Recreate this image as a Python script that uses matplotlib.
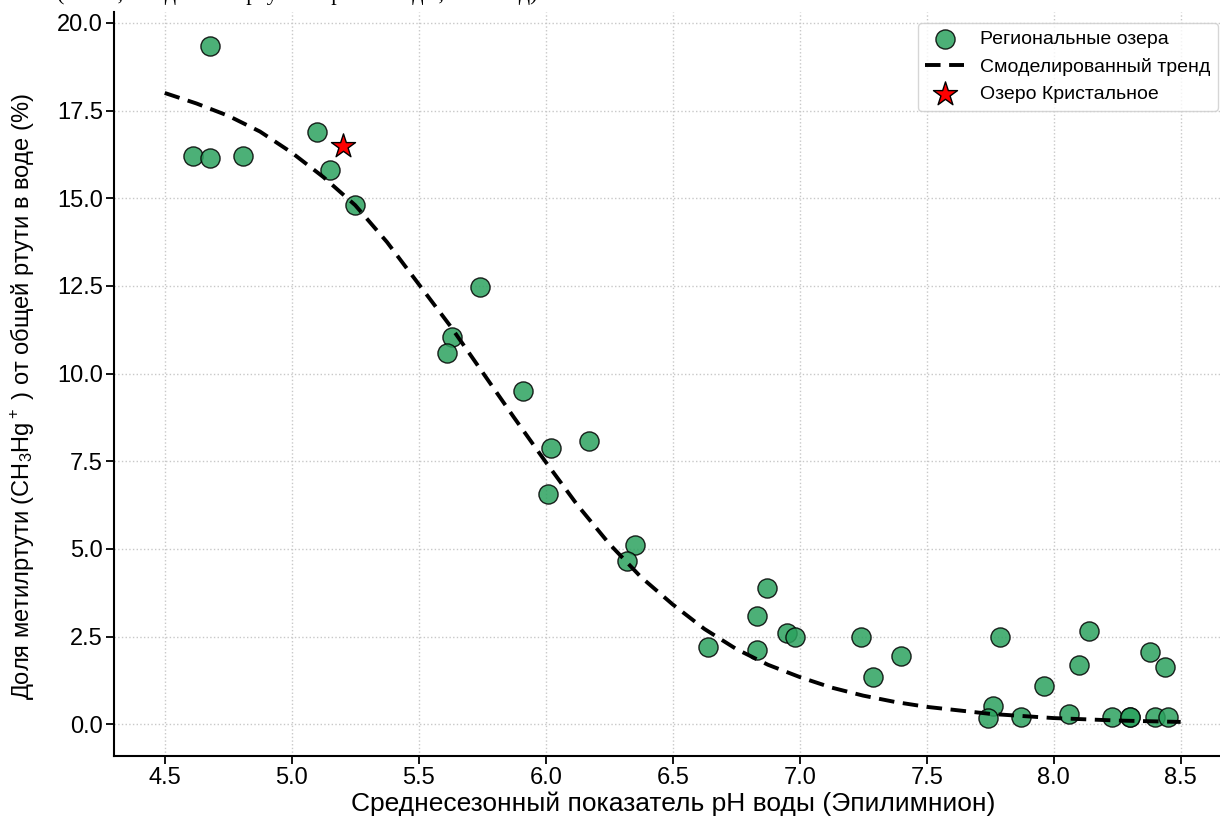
import numpy as np
import matplotlib
matplotlib.use("Agg")
import matplotlib.pyplot as plt

# --- данные ---
lake_ph = [4.61, 4.68, 4.68, 4.81, 5.10, 5.15, 5.25, 5.74, 5.63, 5.61,
           5.91, 6.02, 6.17, 6.01, 6.35, 6.32, 6.64, 6.87, 6.83, 6.83,
           6.95, 6.98, 7.24, 7.29, 7.40, 7.79, 7.76, 7.74, 7.87, 7.96,
           8.06, 8.10, 8.14, 8.23, 8.30, 8.30, 8.38, 8.40, 8.44, 8.45]
lake_mehg = [16.2, 19.35, 16.15, 16.2, 16.9, 15.8, 14.8, 12.48, 11.04, 10.6,
             9.49, 7.89, 8.08, 6.57, 5.11, 4.65, 2.21, 3.90, 3.09, 2.11,
             2.61, 2.49, 2.50, 1.36, 1.95, 2.49, 0.53, 0.18, 0.20, 1.09,
             0.30, 1.70, 2.66, 0.20, 0.20, 0.22, 2.07, 0.20, 1.64, 0.20]

trend_ph = [4.5, 4.625, 4.75, 4.875, 5.0, 5.125, 5.25, 5.375, 5.5, 5.625,
            5.75, 5.875, 6.0, 6.125, 6.25, 6.375, 6.5, 6.625, 6.75, 6.875,
            7.0, 7.125, 7.25, 7.375, 7.5, 7.75, 8.0, 8.25, 8.5]
trend_mehg = [18.0, 17.7, 17.35, 16.9, 16.3, 15.6, 14.8, 13.75, 12.55, 11.35,
              10.05, 8.75, 7.48, 6.25, 5.15, 4.2, 3.42, 2.72, 2.15, 1.7,
              1.35, 1.05, 0.82, 0.64, 0.5, 0.3, 0.18, 0.11, 0.07]

crystal_ph = [5.20]
crystal_mehg = [16.5]

x_ticks = [4.5, 5.0, 5.5, 6.0, 6.5, 7.0, 7.5, 8.0, 8.5]
y_ticks = [0.0, 2.5, 5.0, 7.5, 10.0, 12.5, 15.0, 17.5, 20.0]

plt.rcParams['font.family'] = ['Liberation Sans', 'DejaVu Sans']
plt.rcParams['mathtext.fontset'] = 'custom'
plt.rcParams['mathtext.rm'] = 'Liberation Sans'
plt.rcParams['mathtext.it'] = 'Liberation Sans:italic'

fig = plt.figure(figsize=(12.2, 8.3), dpi=100)
ax = fig.add_axes([0.0934, 0.0892, 0.916, 0.896])

ax.grid(True, linestyle=':', color='#c8c8c8', linewidth=1.0, zorder=0)
ax.set_axisbelow(True)

ax.scatter(lake_ph, lake_mehg, s=190, color='#2ca25f', alpha=0.85,
           edgecolors='black', linewidths=1.0, zorder=3,
           label='Региональные озера')
ax.plot(trend_ph, trend_mehg, color='black', linestyle='--', linewidth=2.8,
        dashes=(4, 2.2), zorder=4, label='Смоделированный тренд')
ax.scatter(crystal_ph, crystal_mehg, s=330, marker='*', color='red',
           edgecolors='black', linewidths=1.0, zorder=5,
           label='Озеро Кристальное')

ax.set_xlim(4.3, 8.7)
ax.set_ylim(-0.9, 20.3)
ax.set_xticks(x_ticks)
ax.set_yticks(y_ticks)
ax.set_xticklabels([f"{v:.1f}" for v in x_ticks])
ax.set_yticklabels([f"{v:.1f}" for v in y_ticks])
ax.tick_params(axis='both', labelsize=17, length=6, width=1.3, color='black', pad=2)

for side in ['top', 'right']:
    ax.spines[side].set_visible(False)
for side in ['left', 'bottom']:
    ax.spines[side].set_linewidth(1.5)
    ax.spines[side].set_color('black')

ax.set_xlabel('Среднесезонный показатель pH воды (Эпилимнион)', fontsize=19, labelpad=2)
ax.set_ylabel('Доля метилртути (CH$_3$Hg$^+$ ) от общей ртути в воде (%)', fontsize=17)
ax.yaxis.set_label_coords(-0.0698, 0.4825)

leg = ax.legend(loc='upper right', bbox_to_anchor=(1218 / 1220, 1 - 23 / 830),
                bbox_transform=fig.transFigure, borderaxespad=0, fontsize=14,
                frameon=True, handlelength=2.0)
leg.get_frame().set_edgecolor('#cccccc')

# заголовок, который выходит за верхний край рисунка
fig.text(0.047, 1.0, '(Июль, все данные: ртуть в пробах воды, 2023 год)',
         family=['Liberation Serif', 'DejaVu Serif'], fontsize=16,
         ha='left', va='baseline')

fig.savefig('out.png', dpi=100)
